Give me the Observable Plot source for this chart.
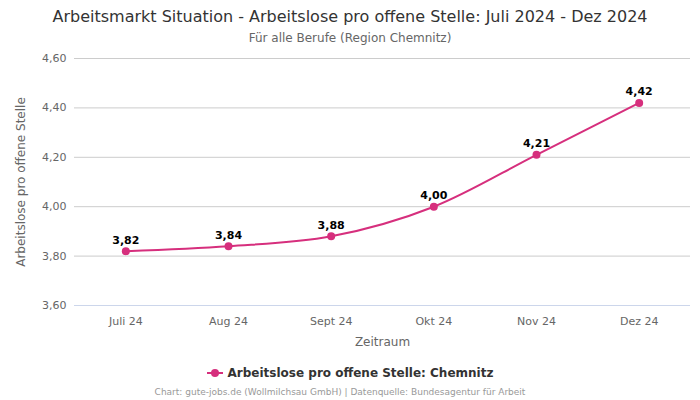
<!DOCTYPE html>
<html>
<head>
<meta charset="utf-8">
<script src="https://cdn.jsdelivr.net/npm/d3@7"></script>
<script src="https://cdn.jsdelivr.net/npm/@observablehq/plot@0.6"></script>
<style>
  html, body { margin: 0; padding: 0; background: #fff; }
  body { width: 700px; height: 400px; font-family: "DejaVu Sans", sans-serif; overflow: hidden; }
  #title { text-align: center; color: #333; font-size: 16px; height: 26px; line-height: 20px; padding-top: 7px; box-sizing: border-box; }
  #subtitle { text-align: center; color: #666; font-size: 12px; height: 22px; line-height: 14px; padding-top: 5px; box-sizing: border-box; }
  #chart svg { display: block; }
  #legend { text-align: center; color: #333; font-size: 12px; font-weight: bold; height: 24px; line-height: 24px; margin-top: 11px; display: flex; justify-content: center; align-items: center; gap: 5px; }
  #caption { text-align: center; color: #999; font-size: 9px; height: 14px; line-height: 14px; padding-right: 20px; }
</style>
</head>
<body>
<div id="title">Arbeitsmarkt Situation - Arbeitslose pro offene Stelle: Juli 2024 - Dez 2024</div>
<div id="subtitle">Für alle Berufe (Region Chemnitz)</div>
<div id="chart"></div>
<div id="legend"><svg width="16" height="10"><line x1="0" y1="5" x2="16" y2="5" stroke="#d62f7d" stroke-width="2"/><circle cx="8" cy="5" r="4" fill="#d62f7d"/></svg><span>Arbeitslose pro offene Stelle: Chemnitz</span></div>
<div id="caption">Chart: gute-jobs.de (Wollmilchsau GmbH) | Datenquelle: Bundesagentur für Arbeit</div>
<script>
const months = ["Juli 24", "Aug 24", "Sept 24", "Okt 24", "Nov 24", "Dez 24"];
const values = [3.82, 3.84, 3.88, 4.00, 4.21, 4.42];
const yTicks = [3.6, 3.8, 4.0, 4.2, 4.4, 4.6];

const data = months.map((m, i) => ({month: m, value: values[i]}));
const fmt = d => d.toFixed(2).replace(".", ",");
const color = "#d62f7d";

const chart = Plot.plot({
  width: 700,
  height: 302,
  marginLeft: 74,
  marginRight: 10,
  marginTop: 10,
  marginBottom: 45,
  style: {fontFamily: "DejaVu Sans, sans-serif", fontSize: "11px", color: "#666", background: "#fff"},
  x: {type: "point", domain: months, padding: 0.5, round: false, label: null},
  y: {domain: [3.6, 4.6], ticks: yTicks, label: null},
  marks: [
    Plot.gridY(yTicks.slice(1), {stroke: "#ccc", strokeOpacity: 1}),
    Plot.ruleY([3.6], {stroke: "#ccd6eb"}),
    Plot.axisY({ticks: yTicks, tickSize: 0, tickPadding: 8, tickFormat: fmt, fill: "#666", fontSize: 11,
      label: "Arbeitslose pro offene Stelle", labelAnchor: "center", labelArrow: "none", labelOffset: 58}),
    Plot.axisX({tickSize: 0, tickPadding: 12, fill: "#666", fontSize: 11,
      label: "Zeitraum", labelAnchor: "center", labelArrow: "none", labelOffset: 40}),
    Plot.line(data, {x: "month", y: "value", stroke: color, strokeWidth: 2, curve: "monotone-x"}),
    Plot.dot(data, {x: "month", y: "value", fill: color, r: 4}),
    Plot.text(data, {x: "month", y: "value", text: d => fmt(d.value), dy: -11, fontWeight: "bold", fontSize: 11, fill: "#000"})
  ]
});
chart.querySelectorAll("g[aria-label='y-axis label'] text, g[aria-label='x-axis label'] text").forEach(t => t.setAttribute("font-size", "12"));
document.getElementById("chart").appendChild(chart);
</script>
</body>
</html>
